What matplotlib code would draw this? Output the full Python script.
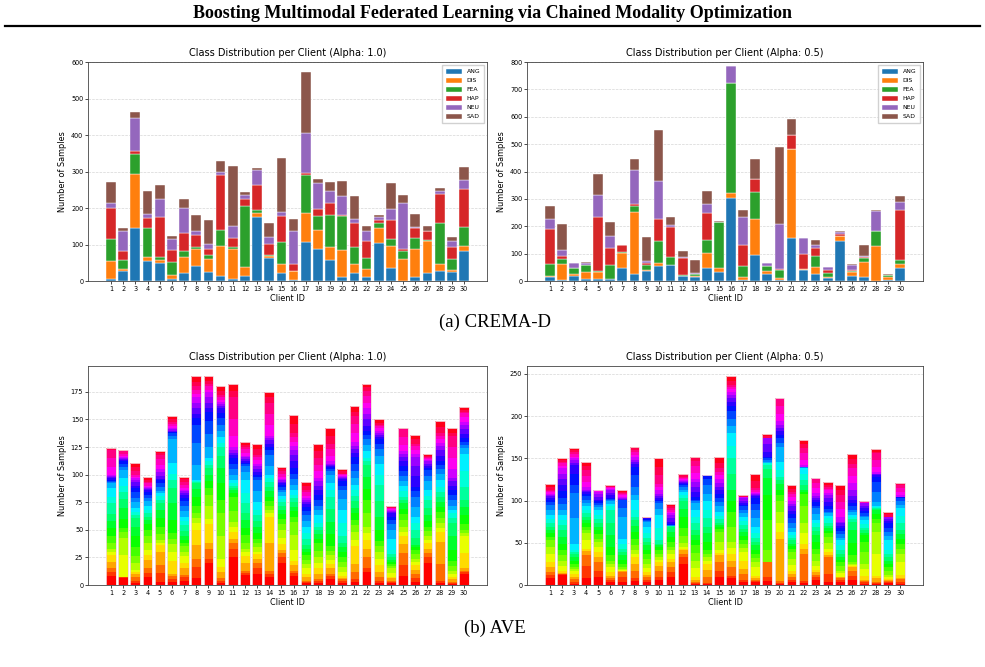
import numpy as np
import matplotlib
matplotlib.use("Agg")
import matplotlib.pyplot as plt
from matplotlib.lines import Line2D

clients = list(range(1, 31))
crema_classes = ["ANG", "DIS", "FEA", "HAP", "NEU", "SAD"]

# CREMA-D, alpha 1.0
c10_ANG = [6, 27, 145, 55, 48, 6, 22, 40, 25, 13, 5, 15, 175, 62, 21, 2, 108, 87, 57, 10, 23, 12, 104, 35, 0, 11, 23, 27, 25, 82]
c10_DIS = [48, 5, 148, 10, 9, 10, 43, 49, 36, 84, 84, 24, 11, 7, 25, 25, 78, 52, 36, 75, 24, 22, 42, 60, 61, 77, 87, 19, 4, 15]
c10_FEA = [61, 25, 55, 81, 8, 36, 18, 3, 9, 43, 4, 166, 8, 1, 61, 0, 105, 38, 89, 92, 47, 28, 13, 19, 22, 31, 3, 112, 30, 52]
c10_HAP = [85, 24, 9, 27, 110, 32, 48, 33, 18, 151, 26, 19, 69, 31, 72, 19, 6, 20, 31, 3, 64, 49, 7, 52, 6, 26, 23, 81, 34, 103]
c10_NEU = [13, 57, 90, 10, 49, 32, 68, 13, 14, 8, 31, 11, 41, 20, 11, 91, 108, 73, 34, 54, 11, 25, 9, 31, 124, 2, 2, 9, 16, 26]
c10_SAD = [58, 7, 16, 63, 39, 8, 26, 42, 64, 29, 166, 10, 5, 37, 146, 34, 167, 11, 24, 39, 63, 14, 5, 73, 22, 37, 13, 6, 12, 34]

# CREMA-D, alpha 0.5
c05_ANG = [15, 3, 19, 9, 6, 6, 48, 25, 38, 55, 60, 18, 13, 48, 33, 302, 4, 94, 24, 3, 157, 39, 25, 10, 146, 18, 13, 0, 3, 48]
c05_DIS = [3, 60, 7, 25, 28, 3, 54, 227, 2, 12, 0, 2, 5, 53, 14, 19, 11, 131, 14, 8, 324, 4, 27, 3, 18, 15, 55, 128, 13, 15]
c05_FEA = [44, 19, 22, 23, 4, 49, 5, 22, 18, 79, 29, 3, 6, 47, 167, 402, 38, 101, 17, 29, 0, 0, 39, 15, 1, 3, 16, 54, 5, 15]
c05_HAP = [128, 11, 0, 2, 196, 61, 24, 7, 9, 79, 110, 60, 1, 100, 0, 0, 78, 48, 1, 3, 51, 55, 30, 12, 7, 3, 3, 0, 0, 182]
c05_NEU = [38, 20, 16, 6, 80, 45, 0, 125, 6, 140, 7, 6, 5, 34, 2, 62, 104, 0, 8, 167, 0, 59, 9, 10, 8, 18, 5, 72, 0, 27]
c05_SAD = [47, 97, 3, 4, 76, 52, 0, 38, 87, 188, 29, 22, 48, 45, 5, 0, 23, 71, 3, 279, 59, 0, 21, 2, 2, 5, 38, 5, 3, 24]

# AVE (28 classes), one row per client, alpha 1.0
ave_a10 = [
    [8, 4, 3, 6, 6, 3, 3, 5, 6, 8, 6, 6, 10, 6, 8, 4, 1, 1, 1, 2, 1, 1, 1, 7, 8, 7, 1, 1],
    [6, 1, 0, 0, 0, 20, 16, 5, 4, 8, 10, 8, 6, 6, 7, 7, 3, 3, 2, 1, 1, 1, 1, 1, 2, 2, 0, 1],
    [2, 2, 3, 3, 2, 2, 6, 6, 8, 10, 9, 8, 2, 3, 4, 5, 4, 5, 4, 2, 3, 2, 2, 1, 2, 3, 4, 4],
    [7, 4, 4, 8, 4, 5, 6, 6, 6, 5, 4, 3, 3, 3, 4, 4, 3, 3, 2, 2, 1, 1, 1, 1, 2, 1, 2, 3],
    [3, 8, 7, 12, 6, 2, 3, 5, 7, 8, 7, 6, 3, 4, 2, 2, 4, 3, 3, 1, 3, 3, 3, 4, 5, 4, 2, 1],
    [3, 2, 3, 2, 12, 8, 7, 5, 5, 12, 15, 14, 7, 6, 10, 21, 3, 3, 1, 0, 1, 1, 1, 2, 2, 2, 2, 3],
    [4, 3, 2, 6, 5, 6, 4, 5, 3, 3, 3, 5, 5, 4, 4, 5, 5, 4, 3, 3, 1, 2, 1, 2, 3, 2, 3, 2],
    [6, 10, 8, 12, 14, 6, 5, 4, 7, 8, 7, 5, 1, 1, 1, 14, 20, 16, 6, 4, 5, 5, 5, 3, 4, 3, 4, 5],
    [20, 4, 9, 5, 17, 5, 12, 10, 6, 6, 6, 6, 3, 3, 3, 10, 12, 12, 8, 3, 5, 5, 5, 2, 3, 2, 3, 4],
    [2, 2, 2, 6, 4, 8, 20, 21, 12, 15, 14, 11, 8, 4, 5, 6, 5, 6, 5, 4, 2, 2, 2, 2, 2, 2, 4, 4],
    [25, 8, 5, 4, 6, 5, 4, 10, 13, 3, 3, 2, 2, 2, 3, 5, 5, 5, 5, 3, 2, 2, 3, 10, 15, 20, 6, 6],
    [9, 2, 2, 7, 6, 4, 3, 5, 7, 7, 7, 6, 9, 9, 12, 7, 6, 2, 1, 1, 2, 2, 1, 3, 3, 2, 2, 3],
    [10, 5, 5, 4, 4, 2, 4, 4, 4, 5, 6, 5, 5, 5, 7, 10, 10, 3, 2, 2, 3, 3, 2, 3, 3, 2, 5, 5],
    [7, 3, 3, 25, 24, 3, 3, 4, 4, 4, 5, 4, 4, 4, 3, 8, 10, 4, 3, 3, 3, 2, 2, 10, 10, 10, 5, 5],
    [20, 5, 4, 3, 5, 6, 7, 5, 5, 4, 4, 4, 3, 3, 3, 3, 2, 3, 2, 1, 1, 2, 1, 2, 3, 2, 2, 2],
    [8, 3, 2, 5, 4, 10, 13, 12, 5, 5, 4, 4, 4, 3, 4, 5, 5, 5, 5, 6, 6, 4, 4, 4, 4, 4, 8, 8],
    [2, 1, 1, 3, 3, 5, 4, 4, 4, 3, 3, 3, 6, 5, 6, 5, 5, 4, 4, 2, 2, 2, 2, 2, 3, 2, 4, 3],
    [2, 2, 1, 5, 5, 5, 5, 6, 7, 4, 4, 4, 3, 3, 7, 5, 4, 5, 5, 4, 4, 4, 3, 6, 6, 6, 6, 7],
    [5, 3, 2, 5, 4, 4, 4, 4, 4, 11, 11, 12, 11, 6, 6, 8, 3, 2, 2, 1, 1, 1, 2, 5, 6, 5, 7, 7],
    [2, 2, 1, 1, 2, 4, 4, 5, 4, 5, 4, 4, 6, 12, 12, 10, 8, 4, 4, 2, 1, 1, 1, 1, 1, 0, 2, 2],
    [3, 2, 7, 7, 16, 6, 7, 6, 5, 6, 5, 6, 5, 5, 5, 6, 6, 7, 6, 4, 3, 3, 4, 8, 8, 7, 4, 5],
    [12, 3, 10, 8, 8, 6, 6, 12, 12, 10, 11, 11, 3, 3, 6, 6, 5, 4, 4, 4, 6, 5, 5, 5, 6, 5, 3, 3],
    [2, 2, 3, 5, 6, 6, 6, 5, 5, 10, 12, 14, 15, 9, 10, 7, 6, 5, 4, 2, 2, 2, 2, 2, 2, 1, 2, 3],
    [2, 1, 1, 2, 1, 4, 4, 2, 2, 2, 2, 2, 3, 4, 10, 8, 5, 4, 3, 3, 1, 1, 1, 1, 1, 0, 1, 1],
    [8, 10, 11, 8, 7, 4, 5, 6, 5, 5, 5, 3, 3, 5, 5, 4, 5, 4, 5, 4, 4, 3, 2, 6, 7, 7, 1, 0],
    [3, 3, 4, 4, 4, 3, 3, 4, 4, 2, 2, 7, 7, 6, 6, 9, 9, 5, 4, 10, 9, 8, 3, 3, 4, 2, 4, 4],
    [20, 5, 4, 4, 5, 3, 3, 5, 4, 5, 5, 7, 7, 4, 5, 8, 5, 5, 2, 2, 2, 2, 1, 1, 1, 1, 1, 2],
    [2, 2, 15, 20, 9, 4, 4, 5, 5, 5, 4, 5, 4, 5, 6, 6, 4, 4, 3, 5, 5, 4, 3, 3, 3, 3, 5, 6],
    [1, 1, 1, 2, 2, 3, 3, 4, 5, 10, 12, 12, 5, 4, 3, 4, 5, 5, 4, 4, 4, 3, 8, 10, 10, 10, 3, 4],
    [10, 2, 1, 2, 14, 15, 3, 3, 5, 8, 8, 6, 12, 14, 16, 5, 3, 3, 3, 4, 4, 4, 3, 4, 4, 1, 2, 2],
]

# AVE (28 classes), one row per client, alpha 0.5
ave_a05 = [
    [8, 4, 3, 6, 6, 10, 8, 8, 4, 4, 4, 4, 4, 5, 5, 6, 6, 3, 3, 2, 2, 1, 2, 2, 1, 1, 4, 4],
    [12, 1, 0, 1, 3, 6, 6, 6, 6, 8, 8, 8, 6, 6, 6, 6, 7, 7, 8, 7, 7, 7, 6, 3, 3, 2, 2, 2],
    [1, 2, 4, 3, 3, 4, 2, 2, 4, 4, 4, 4, 2, 2, 8, 30, 30, 9, 14, 10, 3, 3, 2, 2, 3, 3, 2, 2],
    [8, 14, 13, 5, 3, 10, 8, 4, 4, 4, 4, 4, 4, 4, 4, 4, 4, 4, 3, 2, 1, 1, 4, 6, 7, 7, 5, 5],
    [10, 7, 10, 6, 6, 6, 6, 4, 5, 5, 4, 5, 4, 5, 6, 3, 3, 2, 2, 2, 3, 4, 2, 1, 1, 0, 0, 0],
    [4, 2, 2, 3, 4, 6, 4, 4, 6, 10, 14, 14, 16, 4, 3, 3, 2, 1, 1, 3, 3, 3, 2, 1, 1, 0, 1, 1],
    [4, 6, 5, 1, 1, 1, 1, 2, 4, 5, 5, 4, 4, 5, 6, 27, 10, 10, 0, 0, 1, 1, 1, 2, 2, 1, 1, 2],
    [5, 3, 9, 8, 8, 4, 4, 6, 8, 8, 7, 7, 4, 8, 12, 6, 9, 14, 10, 3, 3, 2, 3, 3, 3, 3, 2, 2],
    [3, 3, 3, 3, 3, 5, 5, 6, 6, 5, 5, 4, 5, 5, 8, 6, 1, 1, 1, 1, 0, 0, 0, 0, 0, 0, 0, 1],
    [6, 4, 7, 5, 5, 3, 3, 4, 4, 4, 2, 2, 4, 14, 16, 7, 7, 2, 2, 2, 2, 3, 4, 4, 4, 10, 10, 10],
    [10, 5, 6, 6, 4, 6, 4, 4, 6, 6, 6, 6, 1, 0, 0, 0, 1, 0, 1, 3, 4, 4, 2, 2, 2, 2, 2, 3],
    [25, 8, 4, 4, 2, 2, 5, 8, 10, 12, 10, 10, 3, 3, 4, 3, 3, 2, 2, 1, 1, 1, 1, 1, 2, 1, 2, 2],
    [1, 1, 2, 2, 4, 10, 9, 9, 9, 6, 6, 6, 8, 8, 8, 8, 2, 2, 3, 6, 6, 6, 4, 7, 8, 6, 3, 1],
    [1, 1, 8, 8, 7, 4, 4, 4, 4, 10, 10, 8, 10, 10, 10, 9, 10, 8, 3, 1, 0, 0, 0, 0, 0, 0, 0, 0],
    [10, 7, 10, 8, 3, 3, 10, 12, 3, 3, 2, 3, 4, 4, 5, 6, 5, 5, 5, 4, 4, 5, 5, 4, 4, 4, 6, 7],
    [8, 3, 10, 8, 8, 7, 7, 18, 18, 12, 13, 19, 19, 15, 15, 8, 9, 9, 6, 5, 4, 4, 4, 3, 3, 2, 5, 5],
    [4, 2, 7, 6, 10, 10, 5, 5, 4, 5, 5, 3, 5, 5, 5, 4, 4, 4, 2, 2, 3, 3, 1, 0, 0, 0, 1, 1],
    [4, 1, 1, 2, 3, 10, 6, 5, 5, 5, 5, 4, 5, 5, 8, 10, 10, 7, 7, 2, 2, 1, 1, 1, 2, 3, 8, 9],
    [5, 5, 17, 0, 0, 0, 0, 15, 35, 30, 20, 10, 5, 2, 1, 1, 2, 2, 2, 5, 10, 7, 0, 0, 0, 0, 2, 3],
    [1, 1, 3, 50, 8, 10, 14, 13, 6, 7, 7, 4, 4, 8, 10, 18, 4, 6, 4, 4, 4, 4, 4, 8, 10, 10, 0, 0],
    [3, 3, 4, 3, 4, 7, 7, 8, 4, 3, 3, 4, 3, 3, 4, 5, 5, 6, 5, 4, 5, 3, 4, 4, 4, 2, 4, 4],
    [2, 3, 32, 6, 6, 12, 12, 20, 15, 2, 2, 6, 6, 7, 7, 1, 1, 0, 0, 0, 0, 0, 2, 6, 8, 6, 5, 5],
    [6, 4, 2, 3, 3, 4, 7, 8, 6, 8, 8, 5, 5, 4, 4, 7, 7, 3, 4, 3, 2, 2, 4, 6, 6, 6, 0, 0],
    [3, 10, 20, 3, 3, 4, 7, 7, 4, 3, 3, 3, 4, 5, 3, 3, 2, 3, 4, 4, 5, 3, 3, 3, 2, 2, 3, 3],
    [4, 2, 2, 1, 1, 4, 3, 5, 5, 3, 3, 4, 4, 6, 6, 3, 4, 4, 3, 3, 3, 2, 6, 9, 8, 8, 6, 6],
    [6, 5, 6, 4, 2, 1, 1, 2, 8, 15, 15, 10, 3, 3, 2, 3, 3, 4, 4, 4, 4, 8, 8, 8, 9, 5, 6, 6],
    [1, 2, 2, 1, 5, 8, 6, 14, 12, 8, 3, 3, 3, 4, 5, 3, 2, 3, 3, 3, 3, 3, 0, 0, 1, 0, 1, 1],
    [1, 1, 2, 4, 3, 26, 26, 10, 5, 6, 5, 1, 1, 1, 1, 5, 12, 12, 6, 2, 1, 1, 2, 6, 8, 8, 2, 3],
    [2, 2, 1, 1, 1, 2, 3, 5, 4, 4, 4, 4, 4, 4, 12, 5, 5, 5, 5, 3, 2, 2, 0, 0, 0, 1, 3, 3],
    [1, 3, 3, 1, 4, 15, 10, 6, 6, 6, 5, 5, 8, 9, 9, 4, 4, 4, 1, 0, 0, 0, 2, 4, 5, 4, 2, 0],
]

plt.rcParams["font.family"] = ["DejaVu Sans"]

W, H = 985, 667
fig = plt.figure(figsize=(W / 100, H / 100), dpi=100)

TITLE_FS = 7.0
LABEL_FS = 5.9
TICK_FS = 4.7


def style_axes(ax, title):
    ax.set_title(title, fontsize=TITLE_FS, pad=4)
    ax.set_xlabel("Client ID", fontsize=LABEL_FS, labelpad=1.5)
    ax.set_ylabel("Number of Samples", fontsize=LABEL_FS, labelpad=3)
    ax.set_xticks(clients)
    ax.set_xticklabels([str(c) for c in clients])
    ax.tick_params(axis="both", labelsize=TICK_FS, length=2, width=0.5, pad=1.5)
    ax.grid(axis="y", linestyle="--", color="#cccccc", linewidth=0.5, alpha=0.8)
    ax.set_axisbelow(True)
    for s in ax.spines.values():
        s.set_linewidth(0.6)
        s.set_color("#444444")


def crema_plot(ax, series, title):
    colors = plt.cm.tab10(np.arange(6))
    bottom = np.zeros(len(clients))
    for name, vals, col in zip(crema_classes, series, colors):
        ax.bar(clients, vals, 0.8, bottom=bottom, color=col, label=name,
               edgecolor="white", linewidth=0.3)
        bottom += np.array(vals)
    style_axes(ax, title)
    ax.legend(loc="upper right", fontsize=4.4, handlelength=2.6, handleheight=0.9,
              labelspacing=0.55, borderpad=0.6, framealpha=0.9, edgecolor="#cccccc",
              fancybox=False)


def ave_plot(ax, rows, title):
    arr = np.array(rows, dtype=float)
    ncls = arr.shape[1]
    colors = plt.cm.hsv(np.linspace(0, 1, ncls))
    bottom = np.zeros(len(clients))
    for k in range(ncls):
        ax.bar(clients, arr[:, k], 0.8, bottom=bottom, color=colors[k],
               edgecolor="none", linewidth=0)
        bottom += arr[:, k]
    # light outline around each stacked bar
    ax.bar(clients, bottom, 0.8, fill=False, edgecolor="#f4d8dc", linewidth=0.6)
    style_axes(ax, title)


L1, L2 = 88 / W, 527 / W
W1, W2 = 399 / W, 396 / W
AH = 219 / H
B_top = 1 - 281 / H
B_bot = 1 - 585 / H

ax1 = fig.add_axes([L1, B_top, W1, AH])
ax2 = fig.add_axes([L2, B_top, W2, AH])
ax3 = fig.add_axes([L1, B_bot, W1, AH])
ax4 = fig.add_axes([L2, B_bot, W2, AH])

crema_plot(ax1, [c10_ANG, c10_DIS, c10_FEA, c10_HAP, c10_NEU, c10_SAD],
           "Class Distribution per Client (Alpha: 1.0)")
crema_plot(ax2, [c05_ANG, c05_DIS, c05_FEA, c05_HAP, c05_NEU, c05_SAD],
           "Class Distribution per Client (Alpha: 0.5)")
ave_plot(ax3, ave_a10, "Class Distribution per Client (Alpha: 1.0)")
ave_plot(ax4, ave_a05, "Class Distribution per Client (Alpha: 0.5)")

ax1.set_yticks(range(0, 601, 100))
ax2.set_yticks(range(0, 801, 100))
ax3.set_yticks(range(0, 176, 25))
ax4.set_yticks(range(0, 251, 50))

serif = ["Liberation Serif", "DejaVu Serif"]
fig.text(0.5, 1 - 14 / H, "Boosting Multimodal Federated Learning via Chained Modality Optimization",
         ha="center", va="center", fontsize=13, fontweight="bold", family=serif)
fig.add_artist(Line2D([5 / W, 980 / W], [1 - 26 / H, 1 - 26 / H], color="black",
                      linewidth=1.6, transform=fig.transFigure))
fig.text(495 / W, 1 - 322 / H, "(a) CREMA-D", ha="center", va="center", fontsize=13.5, family=serif)
fig.text(495 / W, 1 - 628 / H, "(b) AVE", ha="center", va="center", fontsize=13.5, family=serif)

fig.savefig("out.png", dpi=100)
